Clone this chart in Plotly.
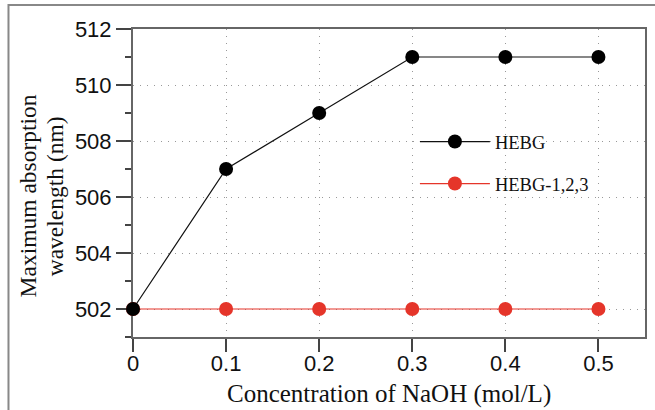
import plotly.graph_objects as go

conc = [0, 0.1, 0.2, 0.3, 0.4, 0.5]
hebg = [502, 507, 509, 511, 511, 511]
hebg123 = [502, 502, 502, 502, 502, 502]
x_ticks = [0, 0.1, 0.2, 0.3, 0.4, 0.5]
x_ticklabels = ["0", "0.1", "0.2", "0.3", "0.4", "0.5"]
y_ticks = [502, 504, 506, 508, 510, 512]
x_title = "Concentration of NaOH (mol/L)"
y_title_lines = ["Maximum absorption", "wavelength (nm)"]

RED = "#e5352a"
W, H = 655, 410
ML, MR, MT, MB = 133, 8, 29, 73
PW, PH = W - ML - MR, H - MT - MB
SERIF = "Liberation Serif, Times New Roman"
SANS = "Liberation Sans, Arial"


def px_x(p):
    return (p - ML) / PW


def px_y(p):
    return (H - MB - p) / PH


fig = go.Figure()
fig.add_trace(go.Scatter(
    x=conc, y=hebg123, name="HEBG-1,2,3", mode="lines+markers",
    line=dict(color=RED, width=1.2), marker=dict(color=RED, size=14),
    cliponaxis=False, legend="legend2"))
fig.add_trace(go.Scatter(
    x=conc, y=hebg, name="HEBG", mode="lines+markers",
    line=dict(color="#111", width=1.2), marker=dict(color="#000", size=14),
    cliponaxis=False, legend="legend"))

axis_common = dict(
    showline=True, linecolor="#666", linewidth=2, mirror=True,
    ticks="outside", tickcolor="#444", tickwidth=1.5,
    tickfont=dict(family=SANS, size=22, color="#111"),
    showgrid=True, gridcolor="#999", gridwidth=1, griddash="1px,6px",
    zeroline=False, layer="below traces",
)

annotations = [
    dict(text=x_title, xref="paper", yref="paper", x=px_x(390), y=px_y(394),
         xanchor="center", yanchor="middle", showarrow=False,
         font=dict(family=SERIF, size=25, color="#111")),
]
for i, (line, xc) in enumerate(zip(y_title_lines, [28, 55])):
    annotations.append(dict(text=line, xref="paper", yref="paper", x=px_x(xc), y=px_y(196),
                            xanchor="center", yanchor="middle", textangle=-90, showarrow=False,
                            font=dict(family=SERIF, size=23.5, color="#111")))

leg_common = dict(xanchor="left", yanchor="middle", bgcolor="rgba(0,0,0,0)", itemwidth=70,
                  font=dict(family=SERIF, size=18.5, color="#111"))

fig.update_layout(
    width=W, height=H,
    margin=dict(l=ML, r=MR, t=MT, b=MB),
    paper_bgcolor="white", plot_bgcolor="white",
    xaxis=dict(axis_common, range=[0, 0.55], tickvals=x_ticks, ticktext=x_ticklabels,
               ticklen=13, ticklabelstandoff=-7),
    yaxis=dict(axis_common, range=[501, 512], tickvals=y_ticks, ticklen=15,
               minor=dict(ticks="outside", ticklen=6, dtick=1, tick0=501,
                          tickcolor="#444", tickwidth=1.5, showgrid=False)),
    legend=dict(leg_common, x=px_x(416), y=px_y(142)),
    legend2=dict(leg_common, x=px_x(416), y=px_y(184)),
    showlegend=True,
    annotations=annotations,
    shapes=[dict(type="rect", xref="paper", yref="paper",
                 x0=px_x(8), x1=px_x(W + 20),
                 y0=px_y(H + 20), y1=px_y(5),
                 line=dict(color="#888", width=2), layer="below")],
)

fig.write_html("out.html")
